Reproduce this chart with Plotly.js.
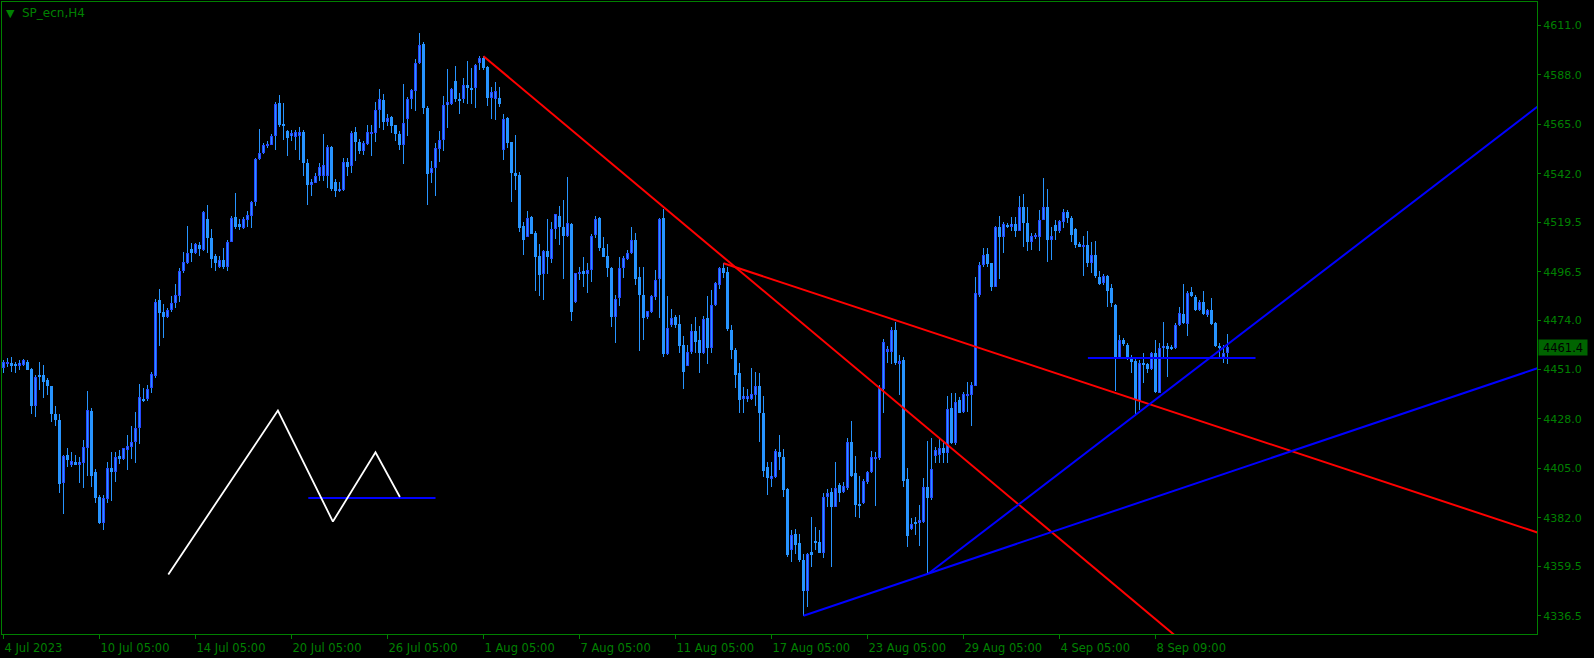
<!DOCTYPE html>
<html>
<head>
<meta charset="utf-8">
<script src="https://cdn.plot.ly/plotly-3.0.1.min.js"></script>
<style>
html,body{margin:0;padding:0;background:#000;}
#chart{width:1594px;height:658px;}
</style>
</head>
<body>
<div id="chart"></div>
<script>
// ---- Candle data (H4 bars, index 0 = 4 Jul 2023) ----
const openP = [
4451.6,4453.8,4454.1,4453.4,4452.8,4453.0,4454.5,4451.4,4434.1,4448.2,
4448.5,4446.3,4443.1,4430.3,4427.6,4398.1,4411.1,4406.6,4408.0,4406.8,
4407.7,4414.4,4431.7,4403.4,4391.7,4379.5,4390.6,4405.1,4403.5,4410.6,
4409.4,4413.7,4415.1,4417.5,4423.7,4437.5,4437.5,4442.3,4448.2,4483.4,
4477.8,4475.3,4478.7,4481.8,4485.4,4497.0,4500.7,4507.1,4505.1,4508.8,
4506.7,4521.1,4512.1,4503.9,4498.9,4502.0,4498.6,4510.5,4521.8,4518.7,
4517.0,4520.6,4522.6,4528.8,4548.7,4551.9,4555.3,4555.6,4559.4,4574.9,
4565.1,4562.0,4559.4,4559.1,4559.5,4561.5,4547.1,4537.0,4537.9,4540.9,
4540.8,4540.9,4554.7,4538.3,4533.8,4534.7,4547.4,4545.6,4561.5,4556.9,
4552.4,4556.1,4560.6,4560.8,4571.6,4576.3,4565.9,4568.4,4564.6,4560.6,
4555.3,4567.3,4576.6,4580.5,4593.5,4602.5,4572.7,4542.2,4544.8,4553.5,
4557.5,4573.9,4574.6,4585.1,4576.9,4576.6,4583.4,4582.0,4581.7,4593.5,
4595.7,4591.8,4577.4,4576.7,4577.2,4552.9,4567.9,4556.7,4542.6,4541.4,
4517.8,4512.8,4521.8,4514.5,4503.9,4495.2,4505.9,4502.3,4516.3,4522.6,
4517.3,4513.3,4518.6,4482.3,4495.5,4497.0,4495.3,4497.2,4513.5,4521.4,
4507.7,4503.7,4498.1,4475.3,4484.1,4498.1,4502.6,4505.1,4511.1,4493.9,
4485.7,4475.2,4477.8,4484.6,4493.0,4521.4,4458.3,4471.7,4475.2,4472.2,
4462.4,4452.8,4459.3,4468.8,4464.7,4458.9,4475.0,4461.2,4480.9,4490.4,
4498.1,4496.4,4469.4,4460.1,4449.3,4437.5,4437.2,4437.2,4439.3,4443.4,
4430.6,4405.5,4400.3,4401.2,4412.7,4410.5,4395.3,4367.1,4374.5,4370.2,
4362.4,4348.2,4366.0,4371.2,4370.8,4365.5,4391.9,4393.9,4387.2,4397.3,
4394.2,4396.1,4417.3,4403.0,4388.5,4388.8,4398.9,4403.4,4409.4,4409.7,
4441.8,4459.3,4459.3,4469.4,4453.9,4455.5,4399.9,4376.7,4379.8,4379.8,
4380.3,4396.2,4391.1,4411.0,4411.3,4414.4,4412.4,4433.0,4416.7,4436.9,
4431.4,4438.9,4439.2,4443.4,4485.7,4499.4,4504.8,4500.4,4489.6,4517.2,
4512.8,4518.3,4517.5,4518.7,4515.6,4526.5,4519.1,4510.1,4512.5,4512.5,
4520.6,4526.5,4511.0,4518.3,4515.2,4519.8,4524.2,4521.4,4516.3,4509.4,
4508.2,4509.0,4500.4,4504.3,4494.2,4491.1,4494.6,4488.8,4481.0,4456.2,
4464.8,4462.5,4456.2,4455.0,4436.5,4454.2,4453.6,4451.3,4458.9,4440.3,
4460.8,4461.7,4461.4,4460.9,4471.8,4476.9,4472.2,4487.0,4484.9,4478.7,
4482.6,4476.4,4478.7,4472.5,4462.0,4456.7,4458.9
];
const highP = [
4455.5,4456.3,4456.7,4454.5,4455.5,4456.1,4455.2,4451.8,4448.5,4454.5,
4453.1,4446.9,4443.4,4434.1,4430.3,4411.3,4414.4,4412.5,4411.3,4410.2,
4418.2,4441.0,4433.0,4404.6,4392.6,4392.6,4408.0,4412.8,4412.8,4413.6,
4414.6,4420.6,4424.5,4431.4,4444.3,4442.3,4443.7,4449.7,4483.7,4488.5,
4481.4,4479.5,4485.2,4490.8,4498.1,4505.7,4517.8,4509.7,4509.7,4510.5,
4524.8,4527.6,4516.4,4504.6,4503.6,4507.6,4511.3,4522.5,4533.2,4521.2,
4521.8,4524.5,4529.3,4549.4,4562.9,4556.4,4557.2,4560.3,4575.5,4578.8,
4575.0,4562.3,4562.5,4562.5,4563.7,4562.2,4548.7,4539.4,4542.2,4547.0,
4560.5,4555.6,4555.0,4539.8,4538.3,4549.4,4549.4,4561.9,4564.0,4558.0,
4557.2,4564.6,4564.9,4575.2,4581.5,4578.9,4569.9,4569.0,4564.9,4561.9,
4583.6,4577.7,4581.5,4595.2,4607.3,4603.1,4573.5,4547.9,4556.4,4561.9,
4578.1,4590.7,4582.0,4592.1,4579.7,4586.7,4594.4,4591.3,4593.3,4596.7,
4596.7,4592.1,4582.5,4584.6,4582.3,4569.8,4568.2,4556.9,4560.1,4542.9,
4519.8,4524.8,4522.6,4515.5,4509.4,4506.6,4521.1,4519.5,4523.5,4527.1,
4529.9,4540.6,4519.0,4496.1,4498.7,4503.2,4500.4,4514.1,4522.2,4521.8,
4512.8,4509.3,4498.9,4485.7,4503.1,4504.0,4506.6,4517.2,4514.7,4498.9,
4498.9,4478.4,4485.7,4497.3,4521.4,4525.6,4485.3,4479.0,4476.4,4476.2,
4466.6,4462.4,4472.2,4475.6,4471.3,4475.9,4485.3,4488.0,4491.9,4498.9,
4500.4,4498.6,4471.6,4461.2,4454.2,4442.8,4441.8,4451.6,4450.0,4449.6,
4438.7,4408.0,4408.2,4413.9,4420.6,4414.1,4395.8,4376.4,4376.7,4374.4,
4365.0,4365.8,4382.2,4377.9,4376.4,4393.4,4395.3,4396.1,4408.0,4398.1,
4398.9,4419.0,4426.9,4410.8,4401.5,4400.0,4404.0,4413.1,4412.8,4443.8,
4465.1,4461.7,4470.7,4473.3,4457.8,4457.0,4405.1,4381.8,4382.6,4388.0,
4400.4,4417.9,4419.0,4415.1,4418.6,4417.9,4438.7,4440.0,4440.3,4438.4,
4440.7,4445.4,4445.4,4493.9,4500.8,4507.4,4507.4,4500.7,4517.8,4522.5,
4519.8,4519.0,4522.1,4522.1,4531.5,4532.7,4526.8,4514.4,4514.4,4525.3,
4540.0,4534.9,4517.5,4520.6,4520.6,4525.6,4525.3,4522.2,4516.7,4510.1,
4513.2,4515.5,4510.5,4510.8,4496.6,4495.5,4495.0,4490.8,4481.3,4467.1,
4465.6,4463.5,4457.8,4456.2,4455.2,4458.6,4454.2,4459.3,4464.5,4463.2,
4473.3,4463.5,4462.5,4472.5,4480.3,4490.8,4487.7,4489.6,4485.7,4483.4,
4487.3,4479.0,4484.2,4473.3,4463.5,4462.5,4467.6
];
const lowP = [
4449.6,4452.1,4450.0,4449.3,4450.8,4452.4,4450.6,4430.4,4429.1,4441.5,
4437.9,4439.2,4426.8,4424.5,4393.4,4383.7,4405.8,4405.8,4406.5,4398.4,
4395.8,4401.6,4396.5,4389.1,4379.0,4376.4,4389.1,4389.9,4398.9,4406.9,
4408.9,4404.1,4409.3,4407.7,4416.2,4436.1,4436.5,4440.0,4446.9,4462.1,
4465.5,4474.9,4477.9,4479.5,4482.6,4496.1,4500.1,4501.2,4504.8,4503.6,
4506.2,4505.1,4498.1,4496.6,4498.1,4497.6,4496.6,4510.1,4516.4,4516.0,
4516.3,4517.5,4516.9,4527.0,4548.2,4551.3,4553.8,4555.3,4553.3,4563.7,
4557.5,4550.1,4557.2,4552.9,4548.2,4541.2,4527.3,4531.9,4537.5,4538.6,
4538.6,4535.5,4533.9,4531.2,4533.5,4534.2,4540.8,4542.2,4547.9,4551.0,
4550.7,4555.6,4550.5,4556.9,4563.1,4562.6,4564.2,4560.9,4557.2,4553.3,
4546.6,4559.5,4572.2,4571.2,4593.2,4569.6,4527.7,4537.8,4531.9,4547.4,
4552.5,4563.1,4573.9,4575.2,4569.9,4574.9,4574.3,4574.3,4572.7,4590.1,
4590.5,4573.5,4567.3,4567.1,4573.3,4548.5,4553.8,4528.7,4534.6,4515.0,
4504.3,4512.5,4513.8,4487.3,4485.3,4483.1,4495.5,4500.4,4511.9,4509.0,
4493.3,4512.8,4473.6,4481.8,4492.7,4489.6,4486.5,4491.9,4512.1,4506.0,
4503.2,4493.9,4470.7,4463.2,4480.6,4493.5,4501.8,4504.8,4490.2,4459.8,
4464.5,4474.5,4477.2,4483.4,4474.8,4456.7,4457.8,4470.9,4470.3,4458.9,
4441.8,4452.4,4458.3,4458.6,4449.6,4458.3,4453.4,4458.9,4480.6,4488.5,
4493.5,4469.1,4455.8,4442.3,4430.6,4431.0,4436.1,4436.9,4433.8,4417.5,
4401.2,4392.7,4396.2,4400.7,4404.3,4391.6,4363.6,4361.6,4365.2,4361.6,
4336.5,4340.7,4359.3,4367.1,4365.5,4363.2,4387.2,4359.3,4386.9,4389.6,
4393.4,4395.0,4401.2,4382.6,4382.1,4388.5,4397.6,4403.0,4387.5,4408.9,
4430.6,4453.9,4453.6,4453.1,4439.2,4396.2,4368.6,4376.4,4374.0,4369.1,
4379.8,4355.9,4390.3,4407.4,4407.4,4407.4,4407.4,4416.4,4415.9,4430.6,
4431.0,4431.4,4424.5,4443.1,4484.9,4498.9,4498.9,4487.3,4489.4,4493.0,
4505.4,4516.9,4515.2,4512.8,4515.2,4507.9,4505.9,4506.6,4511.6,4505.9,
4520.3,4500.8,4502.0,4511.3,4514.4,4516.7,4519.1,4510.1,4507.4,4507.9,
4494.6,4498.9,4495.8,4493.5,4490.4,4490.4,4480.3,4480.3,4441.2,4456.0,
4461.7,4455.5,4449.3,4429.9,4432.2,4444.6,4449.3,4450.8,4440.0,4440.0,
4457.0,4447.7,4460.1,4460.4,4471.0,4472.2,4466.6,4484.9,4478.4,4478.4,
4476.4,4475.6,4471.8,4461.4,4456.2,4453.9,4453.6
];
const closeP = [
4454.4,4454.1,4452.8,4452.8,4454.1,4455.2,4450.8,4434.1,4447.6,4447.6,
4445.4,4443.1,4430.3,4427.6,4397.6,4410.8,4408.9,4408.5,4406.8,4408.0,
4414.8,4432.2,4401.6,4391.4,4379.5,4391.1,4405.1,4403.5,4410.2,4409.4,
4414.4,4415.3,4417.3,4423.7,4438.1,4436.5,4441.8,4448.8,4482.6,4477.2,
4475.6,4478.9,4481.8,4485.7,4496.7,4500.9,4505.4,4505.1,4509.3,4507.0,
4524.3,4512.1,4502.3,4500.4,4502.0,4498.6,4510.2,4521.4,4517.2,4517.5,
4520.9,4522.9,4528.8,4549.0,4551.6,4555.5,4556.1,4559.5,4574.6,4564.5,
4564.3,4558.7,4560.9,4561.5,4561.5,4547.0,4537.0,4538.3,4540.9,4545.4,
4545.9,4554.6,4535.0,4533.9,4535.0,4547.6,4545.4,4561.1,4556.9,4552.5,
4556.3,4561.4,4561.2,4571.8,4576.9,4566.0,4568.1,4564.2,4560.6,4555.3,
4565.6,4576.6,4581.2,4593.6,4602.0,4572.4,4541.7,4544.8,4554.1,4557.7,
4573.9,4575.5,4581.4,4576.9,4576.1,4583.3,4581.7,4581.4,4592.6,4595.8,
4591.3,4577.4,4580.0,4580.5,4574.6,4567.6,4556.4,4542.6,4540.8,4517.0,
4511.0,4521.4,4514.1,4503.1,4495.0,4506.0,4503.1,4516.3,4523.1,4517.5,
4513.3,4519.0,4477.9,4495.8,4496.5,4495.5,4497.3,4513.3,4521.1,4507.7,
4503.5,4498.4,4475.6,4484.0,4498.1,4502.8,4505.3,4511.1,4493.3,4485.7,
4474.8,4478.1,4485.3,4492.7,4520.9,4458.3,4470.2,4474.8,4471.6,4462.1,
4450.0,4459.3,4468.8,4464.0,4458.9,4474.4,4461.2,4480.9,4491.1,4498.1,
4495.8,4469.7,4460.1,4448.5,4436.9,4438.7,4438.9,4439.6,4443.1,4430.6,
4404.0,4400.4,4401.5,4413.1,4410.5,4395.0,4364.7,4374.0,4369.4,4362.4,
4348.2,4365.2,4365.2,4370.6,4365.8,4391.7,4393.4,4387.2,4396.1,4393.7,
4396.8,4417.3,4401.7,4388.0,4387.7,4399.2,4403.5,4410.2,4410.2,4442.3,
4464.0,4460.4,4469.4,4453.9,4454.8,4399.3,4373.7,4379.2,4379.2,4381.0,
4396.2,4391.1,4404.6,4413.6,4414.4,4412.4,4432.5,4417.0,4436.1,4431.0,
4439.6,4439.6,4443.8,4486.5,4499.7,4504.3,4500.1,4489.6,4517.2,4512.8,
4518.7,4517.5,4518.7,4515.2,4526.5,4519.1,4510.1,4513.2,4513.6,4520.6,
4526.5,4511.0,4513.2,4515.2,4520.1,4524.2,4521.4,4513.6,4509.0,4508.2,
4509.0,4500.4,4504.3,4494.6,4490.8,4494.7,4487.7,4482.1,4456.2,4464.5,
4462.8,4456.2,4454.4,4436.9,4453.9,4453.1,4451.1,4458.6,4440.7,4460.9,
4462.0,4460.4,4460.4,4471.8,4477.2,4472.5,4486.5,4485.2,4478.7,4482.3,
4476.9,4478.7,4472.2,4462.0,4460.9,4458.9,4461.4
];

// ---- Axis ticks ----
const timeTickBars = [0,24,48,72,96,120,144,168,192,216,240,264,288];
const timeTickLabels = ['4 Jul 2023','10 Jul 05:00','14 Jul 05:00','20 Jul 05:00','26 Jul 05:00',
  '1 Aug 05:00','7 Aug 05:00','11 Aug 05:00','17 Aug 05:00','23 Aug 05:00','29 Aug 05:00',
  '4 Sep 05:00','8 Sep 09:00'];
const priceTicks = [4611.0,4588.0,4565.0,4542.0,4519.5,4496.5,4474.0,4451.0,4428.0,4405.0,4382.0,4359.5,4336.5];
const lastPrice = 4461.4;
const symbolTitle = 'SP_ecn,H4';

// ---- Drawn objects (bar index, price) ----
const redTrend1 = {bars:[120, 180], prices:[4596.7, 4503.2]};
const redTrend2 = {bars:[180, 245.5], prices:[4500.4, 4460.1]};
const blueTrend1 = {bars:[200, 231.25], prices:[4336.5, 4356.1]};
const blueTrend2 = {bars:[231.25, 283], prices:[4356.1, 4429.9]};
const blueLevel1 = {bars:[271.1, 313], prices:[4456.3, 4456.3]};
const blueLevel2 = {bars:[76.2, 108], prices:[4391.2, 4391.2]};
const whiteZigzag = {bars:[41.2, 68.6, 82.35, 93.0, 99.1], prices:[4355.7, 4431.9, 4380.3, 4412.5, 4391.7]};

// ---- Styling ----
const GREEN = '#008000';
const WICK = '#2794ff';
const BEAR_BODY = '#2794ff';
const BULL_EDGE = '#2748ff';
const BULL_FILL = '#2794ff';
const X_RANGE = [-0.375, 383.375];
const Y_RANGE = [4328.0, 4621.9];
const PX = (Y_RANGE[1]-Y_RANGE[0]) / 632; // price per pixel

const idx = openP.map((_, i) => i);
const traces = [];

// wicks
traces.push({type:'bar', x:idx, base:lowP, y:highP.map((h,i)=>Math.max(h-lowP[i], PX)),
  width:0.25, marker:{color:WICK, line:{width:0}}, hoverinfo:'skip'});

// bodies
const bearX=[], bearBase=[], bearH=[];
const bullX=[], bullBase=[], bullH=[], innX=[], innBase=[], innH=[];
idx.forEach(i => {
  const o=openP[i], c=closeP[i];
  if (c < o) { bearX.push(i); bearBase.push(c); bearH.push(Math.max(o-c, PX)); }
  else {
    bullX.push(i); bullBase.push(o); bullH.push(Math.max(c-o, PX));
    if (c-o > 2.5*PX) { innX.push(i); innBase.push(o+PX); innH.push(c-o-2*PX); }
  }
});
traces.push({type:'bar', x:bearX, base:bearBase, y:bearH, width:0.75,
  marker:{color:BEAR_BODY, line:{width:0}}, hoverinfo:'skip'});
traces.push({type:'bar', x:bullX, base:bullBase, y:bullH, width:0.75,
  marker:{color:BULL_EDGE, line:{width:0}}, hoverinfo:'skip'});
traces.push({type:'bar', x:innX, base:innBase, y:innH, width:0.25,
  marker:{color:BULL_FILL, line:{width:0}}, hoverinfo:'skip'});

// drawn lines
function ray(obj) {
  const b0=obj.bars[0], b1=obj.bars[1], p0=obj.prices[0], p1=obj.prices[1];
  const s=(p1-p0)/(b1-b0), bEnd=X_RANGE[1]+10;
  return {x:[b0, bEnd], y:[p0, p0+s*(bEnd-b0)]};
}
function lineTrace(xy, color, w) {
  return {type:'scatter', mode:'lines', x:xy.x, y:xy.y, line:{color:color, width:w},
    hoverinfo:'skip', cliponaxis:true};
}
traces.push(lineTrace(ray(redTrend1), '#ff0000', 2));
traces.push(lineTrace(ray(redTrend2), '#ff0000', 2));
traces.push(lineTrace(ray(blueTrend1), '#0000ff', 2));
traces.push(lineTrace(ray(blueTrend2), '#0000ff', 2));
traces.push(lineTrace({x:blueLevel1.bars, y:blueLevel1.prices}, '#0000ff', 2));
traces.push(lineTrace({x:blueLevel2.bars, y:blueLevel2.prices}, '#0000ff', 2));
traces.push(lineTrace({x:whiteZigzag.bars, y:whiteZigzag.prices}, '#ffffff', 1.8));

const layout = {
  width:1594, height:658,
  paper_bgcolor:'#000', plot_bgcolor:'#000',
  margin:{l:2, r:57, t:2, b:24, pad:0},
  showlegend:false,
  barmode:'overlay', bargap:0, bargroupgap:0,
  font:{family:'DejaVu Sans', color:GREEN, size:11},
  xaxis:{range:X_RANGE, showgrid:false, zeroline:false,
    showline:true, linecolor:GREEN, linewidth:1, mirror:true,
    tickmode:'array', tickvals:timeTickBars, ticktext:timeTickLabels,
    ticks:'outside', ticklen:4, tickcolor:GREEN, tickwidth:1,
    ticklabelposition:'outside right', ticklabelstandoff:3,
    tickfont:{family:'DejaVu Sans', size:11.5, color:GREEN}},
  yaxis:{range:Y_RANGE, side:'right', showgrid:false, zeroline:false,
    showline:true, linecolor:GREEN, linewidth:1, mirror:true,
    tickmode:'array', tickvals:priceTicks, ticktext:priceTicks.map(v=>v.toFixed(1)),
    ticks:'outside', ticklen:3, tickcolor:GREEN, tickwidth:1,
    tickfont:{family:'DejaVu Sans', size:11, color:GREEN}},
  annotations:[
    {xref:'paper', yref:'paper', x:0, y:1, xanchor:'left', yanchor:'top',
     xshift:2, yshift:-3, text:'▼', showarrow:false, font:{size:11, color:GREEN}},
    {xref:'paper', yref:'paper', x:0, y:1, xanchor:'left', yanchor:'top',
     xshift:18, yshift:-2, text:symbolTitle, showarrow:false,
     font:{family:'DejaVu Sans', size:12, color:GREEN}},
    {xref:'paper', yref:'y', x:1, y:lastPrice, xanchor:'left', yanchor:'middle',
     xshift:1, text:lastPrice.toFixed(1), showarrow:false, bgcolor:'#006400',
     width:46, height:13, borderpad:1, font:{family:'DejaVu Sans', size:11.5, color:'#000'}}
  ]
};

Plotly.newPlot('chart', traces, layout, {displayModeBar:false, responsive:false});
</script>
</body>
</html>
